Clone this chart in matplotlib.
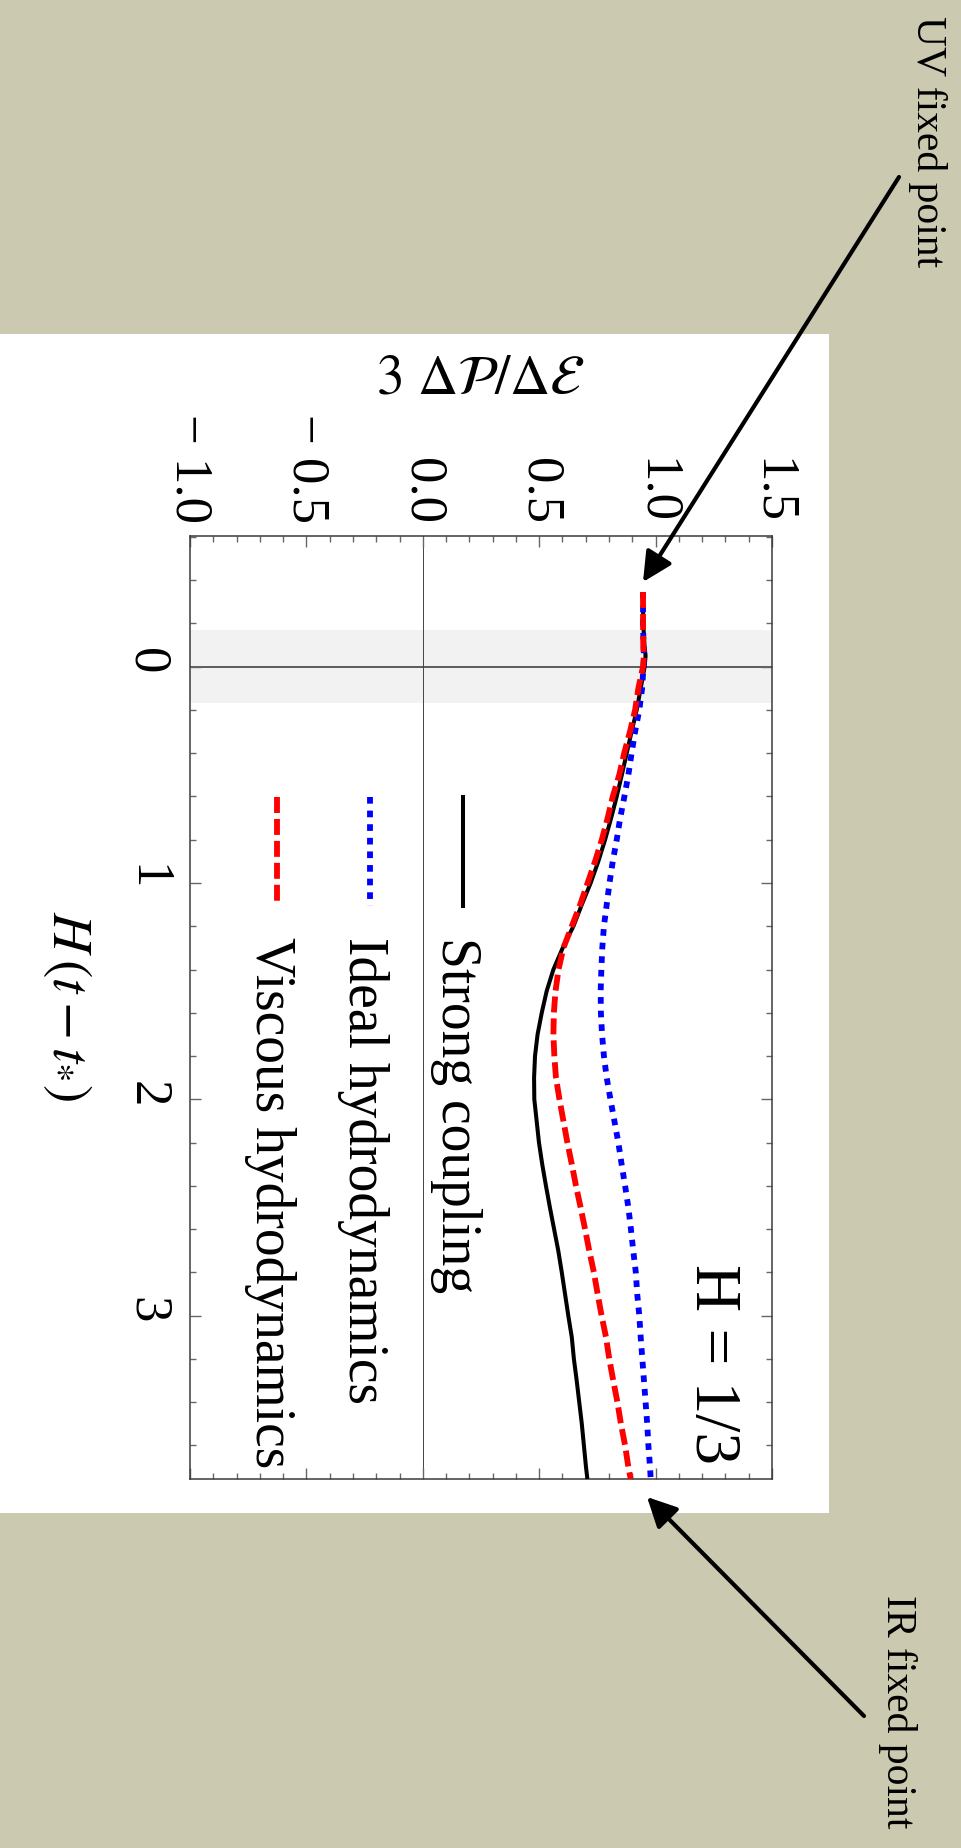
import matplotlib
matplotlib.use('Agg')
import matplotlib.pyplot as plt
from matplotlib.patches import Rectangle, FancyArrowPatch
from matplotlib.ticker import MultipleLocator

# time axis H(t - t*) and the three pressure anisotropy curves
t = [-0.345, -0.2, -0.1, -0.05, 0.0, 0.1, 0.2, 0.3, 0.4, 0.5, 0.6, 0.7, 0.8, 0.9,
     1.0, 1.1, 1.2, 1.3, 1.4, 1.5, 1.6, 1.7, 1.8, 1.9, 2.0, 2.1, 2.2, 2.3, 2.4,
     2.5, 2.6, 2.7, 2.8, 2.9, 3.0, 3.1, 3.2, 3.3, 3.4, 3.5, 3.6, 3.7, 3.755]
strong = [0.945, 0.947, 0.952, 0.957, 0.953, 0.936, 0.919, 0.897, 0.876, 0.855,
          0.833, 0.809, 0.783, 0.754, 0.721, 0.683, 0.647, 0.601, 0.561, 0.532,
          0.511, 0.493, 0.482, 0.478, 0.479, 0.489, 0.499, 0.513, 0.529, 0.546,
          0.564, 0.582, 0.597, 0.611, 0.625, 0.640, 0.649, 0.661, 0.672, 0.683,
          0.692, 0.701, 0.707]
ideal = [0.946, 0.946, 0.948, 0.950, 0.948, 0.942, 0.930, 0.912, 0.897, 0.883,
         0.866, 0.848, 0.833, 0.816, 0.802, 0.790, 0.778, 0.771, 0.767, 0.764,
         0.765, 0.770, 0.778, 0.790, 0.806, 0.823, 0.840, 0.854, 0.869, 0.883,
         0.894, 0.904, 0.915, 0.921, 0.930, 0.936, 0.943, 0.950, 0.957, 0.964,
         0.969, 0.976, 0.979]
viscous = [0.946, 0.946, 0.947, 0.950, 0.946, 0.926, 0.912, 0.890, 0.865, 0.844,
           0.816, 0.794, 0.769, 0.740, 0.708, 0.676, 0.640, 0.604, 0.583, 0.570,
           0.563, 0.561, 0.565, 0.572, 0.587, 0.604, 0.621, 0.640, 0.658, 0.678,
           0.697, 0.715, 0.735, 0.751, 0.768, 0.787, 0.801, 0.818, 0.836, 0.851,
           0.869, 0.883, 0.893]
labels = ['Strong coupling', 'Ideal hydrodynamics', 'Viscous hydrodynamics']

plt.rcParams['font.family'] = ['Liberation Serif', 'DejaVu Serif']
plt.rcParams['mathtext.fontset'] = 'stix'
plt.rcParams['lines.scale_dashes'] = False

W, H = 962, 1848
fig = plt.figure(figsize=(W / 100, H / 100), dpi=100, facecolor='#cbcab0')


def fx(px):
    return px / W


def fy(py):
    return 1 - py / H


# white card behind the plot
fig.add_artist(Rectangle((0, fy(1513)), fx(829), fy(334) - fy(1513),
                         transform=fig.transFigure, facecolor='white',
                         edgecolor='none', zorder=0))

ax = fig.add_axes([fx(190), fy(1479), fx(772) - fx(190), fy(536) - fy(1479)])
ax.set_xlim(-1.0, 1.5)
ax.set_ylim(3.755, -0.604)

ax.axhspan(-0.17, 0.17, color='#f2f2f2', lw=0, zorder=0)
ax.axhline(0, color='#333333', lw=1.1, zorder=1)
ax.axvline(0, color='#444444', lw=0.7, zorder=1)

styles = [dict(color='black', lw=2.9, ls='-'),
          dict(color='#0000ff', lw=4.2, dashes=(4.8, 5.0)),
          dict(color='#ff0000', lw=4.2, dashes=(11.5, 4.3))]
for vals, st in zip([strong, ideal, viscous], styles):
    ax.plot(vals, t, solid_capstyle='butt', zorder=3, **st)

# legend drawn sideways to follow the rotated layout
leg_x = [0.173, -0.227, -0.626]
for lx, st, lab in zip(leg_x, styles, labels):
    ax.plot([lx, lx], [0.602, 1.106], zorder=3, **st)
    ax.text(lx - 0.03, 1.25, lab, rotation=-90, fontsize=40,
            ha='center', va='top')

ax.text(1.242, 3.225, 'H = 1/3', rotation=-90, fontsize=47,
        ha='center', va='center')

ax.xaxis.set_major_locator(MultipleLocator(0.5))
ax.xaxis.set_minor_locator(MultipleLocator(0.1))
ax.yaxis.set_major_locator(MultipleLocator(1))
ax.yaxis.set_minor_locator(MultipleLocator(0.2))
ax.xaxis.set_major_formatter(lambda v, pos: f'{v:.1f}'.replace('-', '\u2212 '))
ax.yaxis.set_major_formatter(lambda v, pos: f'{v:.0f}')
ax.tick_params(which='both', direction='in', top=True, bottom=True,
               left=True, right=True, labeltop=True, labelbottom=False,
               color='#666666', width=1.0)
ax.tick_params(which='major', length=8)
ax.tick_params(which='minor', length=4.3)
ax.tick_params(axis='x', labelsize=38, pad=9, labelrotation=-90)
ax.tick_params(axis='y', labelsize=38, pad=14, labelrotation=-90)
for lab in ax.get_xticklabels():
    lab.set_va('bottom')
for sp in ax.spines.values():
    sp.set_color('#3a3a3a')
    sp.set_linewidth(1.1)

fig.text(fx(480), fy(380), r'$3\ \Delta\mathcal{P}/\Delta\mathcal{E}$',
         fontsize=40, ha='center', va='center')
fig.text(fx(67), fy(1006), r'$H\,(t-t_{*})$', fontsize=40, rotation=-90,
         ha='center', va='center')

# annotations pointing at the fixed points
fig.text(fx(928), fy(142), 'UV fixed point', fontsize=30, rotation=-90,
         ha='center', va='center')
fig.text(fx(898), fy(1712), 'IR fixed point', fontsize=30, rotation=-90,
         ha='center', va='center')
for tail, tip in [((899, 177), (643, 582)), ((864, 1716), (647, 1497))]:
    fig.add_artist(FancyArrowPatch((fx(tail[0]), fy(tail[1])),
                                   (fx(tip[0]), fy(tip[1])),
                                   transform=fig.transFigure,
                                   arrowstyle='-|>,head_length=0.9,head_width=0.45',
                                   mutation_scale=20, lw=3, color='black',
                                   shrinkA=0, shrinkB=0, zorder=5))

fig.savefig('out.png', dpi=100, facecolor=fig.get_facecolor())
